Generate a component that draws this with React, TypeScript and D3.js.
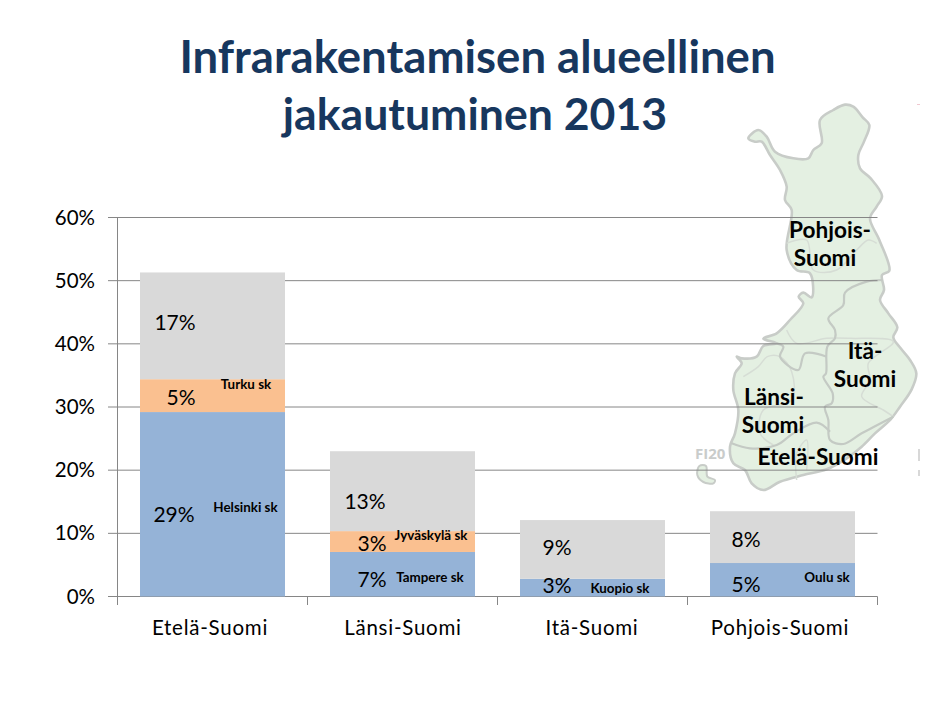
import React from "react";
import * as d3 from "d3";

const categories = ["Etelä-Suomi", "Länsi-Suomi", "Itä-Suomi", "Pohjois-Suomi"];
const blue = [29.2, 7.05, 2.8, 5.3];
const orange = [5.2, 3.3, 0, 0];
const grey = [16.9, 12.65, 9.3, 8.2];
const ticks = [0, 10, 20, 30, 40, 50, 60];
const blueLabels = ["29%", "7%", "3%", "5%"];
const orangeLabels = ["5%", "3%", "", ""];
const greyLabels = ["17%", "13%", "9%", "8%"];
const blueCities = ["Helsinki sk", "Tampere sk", "Kuopio sk", "Oulu sk"];
const orangeCities = ["Turku sk", "Jyväskylä sk", "", ""];

// Map, in reference-crop units
const finland: [number, number][] = [[495,14],[520,20],[548,52],[568,75],[552,125],[535,165],[540,205],[572,235],[606,288],[590,320],[570,355],[598,420],[628,512],[606,525],[612,570],[600,600],[625,640],[652,682],[640,712],[662,745],[690,780],[709,820],[695,868],[660,920],[632,958],[585,1000],[545,1040],[500,1075],[440,1108],[370,1125],[300,1145],[250,1170],[215,1150],[195,1110],[160,1090],[150,1040],[165,1000],[175,930],[160,870],[165,820],[185,790],[170,770],[185,775],[230,770],[250,738],[290,730],[250,716],[290,700],[330,660],[370,610],[356,590],[370,578],[395,592],[390,520],[350,510],[320,450],[335,330],[315,300],[320,260],[300,210],[270,165],[245,125],[225,125],[205,115],[235,90],[260,110],[285,155],[340,175],[385,175],[400,150],[425,130],[420,60],[460,30]];
const aland: [number, number][] = [[58,1098],[78,1098],[82,1130],[105,1140],[100,1150],[70,1146],[52,1125]];
const borderA: [number, number][] = [[608,540],[560,545],[495,578],[490,615],[445,655],[465,690],[465,715],[442,740],[438,820],[430,830],[458,880],[455,910],[435,920],[445,960],[450,1020],[490,1032],[545,1000],[640,950]];
const borderB: [number, number][] = [[440,770],[375,760],[355,810],[300,770],[310,740],[290,730]];
const borderC: [number, number][] = [[155,1030],[210,1045],[290,1035],[340,1000],[410,968],[450,995]];
const paleA: [number, number][] = [[190,830],[235,800],[262,770],[300,770],[335,815],[335,900],[250,930],[240,1000],[280,1035]];
const paleB: [number, number][] = [[320,690],[350,730],[440,715],[510,715],[640,725],[565,790],[570,840],[545,890],[610,930],[640,950]];
const paleC: [number, number][] = [[320,430],[380,420],[400,510],[470,510],[530,450],[565,420],[590,430]];
const paleD: [number, number][] = [[350,1140],[350,1060],[380,1020],[380,1110]];
const innerLines = [paleA, paleB, paleC, paleD];
const borders = [borderA, borderB, borderC];

const W = 949;
const H = 708;
const FONT = "Lato, Carlito, sans-serif";

export default function App() {
  const y = d3.scaleLinear().domain([0, 60]).range([596.5, 217.5]);
  const x = d3.scaleBand<string>().domain(categories).range([117.5, 877.5]).paddingInner(0.2368).paddingOuter(0.1184);
  const mx = d3.scaleLinear().domain([0, 3]).range([680, 681]);
  const my = d3.scaleLinear().domain([0, 3]).range([100, 101]);
  const line = d3.line<[number, number]>().x(d => mx(d[0])).y(d => my(d[1])).curve(d3.curveCatmullRom.alpha(0.5));
  const closed = d3.line<[number, number]>().x(d => mx(d[0])).y(d => my(d[1])).curve(d3.curveCatmullRomClosed.alpha(0.5));
  const step = 190;
  const axisTicks = d3.range(categories.length + 1).map(i => 117.5 + i * step);

  return (
    <svg width={W} height={H} style={{ position: "absolute", left: 0, top: 0, background: "#fff" }}>
      <text x={477.5} y={73} textAnchor="middle" fontFamily={FONT} fontWeight={700} fontSize={45.5} fill="#17375e">Infrarakentamisen alueellinen</text>
      <text x={475} y={130} textAnchor="middle" fontFamily={FONT} fontWeight={700} fontSize={44.6} fill="#17375e">jakautuminen 2013</text>

      <path d={closed(finland) ?? ""} fill="#e4f0e2" stroke="#c8ccc8" strokeWidth={2.6} strokeLinejoin="round" />
      <path d={closed(aland) ?? ""} fill="#e4f0e2" stroke="#c8ccc8" strokeWidth={2} />
      {innerLines.map((l, i) => <path key={i} d={line(l) ?? ""} fill="none" stroke="#d6ddd5" strokeWidth={1.5} />)}
      {borders.map((l, i) => <path key={i} d={line(l) ?? ""} fill="none" stroke="#c4cac4" strokeWidth={2.2} />)}
      <text x={695} y={459} fontFamily="'Open Sans', sans-serif" fontWeight={700} fontSize={15} fill="#c9cccb">FI20</text>
      <rect x={917} y={104} width={3} height={1} fill="#f0c8d0" />
      <rect x={918} y={449} width={2} height={12} fill="#d8d8d8" />
      <rect x={918} y={470} width={2} height={6} fill="#d8d8d8" />

      {ticks.map(t => (
        <line key={t} x1={108} x2={877.5} y1={y(t)} y2={y(t)} stroke="#868686" strokeWidth={1} />
      ))}
      <line x1={117.5} x2={117.5} y1={217} y2={605} stroke="#868686" />
      {axisTicks.map(t => <line key={t} x1={t} x2={t} y1={596.5} y2={605} stroke="#868686" />)}

      {categories.map((c, i) => {
        const bx = x(c) ?? 0;
        const bw = x.bandwidth();
        const y1 = blue[i];
        const y2 = y1 + orange[i];
        const y3 = y2 + grey[i];
        return (
          <g key={c}>
            <rect x={bx} width={bw} y={y(y1)} height={y(0) - y(y1)} fill="#95b3d7" />
            {orange[i] > 0 && <rect x={bx} width={bw} y={y(y2)} height={y(y1) - y(y2)} fill="#fac090" />}
            <rect x={bx} width={bw} y={y(y3)} height={y(y2) - y(y3)} fill="#d9d9d9" />
          </g>
        );
      })}

      {ticks.map(t => (
        <text key={t} x={95} y={y(t) + 7} textAnchor="end" fontFamily={FONT} fontSize={20.5} fill="#000">{t}%</text>
      ))}
      {categories.map((c, i) => (
        <text key={c} x={[210, 403, 592, 780][i]} y={635} textAnchor="middle" fontFamily={FONT} fontSize={20.5} letterSpacing={0.75} fill="#000">{c}</text>
      ))}

      {blueLabels.map((t, i) => {
        const px = [174, 372, 557, 746][i];
        const py = [522, 587, 593, 592][i];
        return <text key={i} x={px} y={py} textAnchor="middle" fontFamily={FONT} fontSize={21} fill="#000">{t}</text>;
      })}
      {orangeLabels.map((t, i) => t && (
        <text key={i} x={[181, 372][i]} y={[405, 551][i]} textAnchor="middle" fontFamily={FONT} fontSize={21} fill="#000">{t}</text>
      ))}
      {greyLabels.map((t, i) => (
        <text key={i} x={[175, 365, 557, 746][i]} y={[330, 509, 555, 547][i]} textAnchor="middle" fontFamily={FONT} fontSize={21} fill="#000">{t}</text>
      ))}
      {blueCities.map((t, i) => (
        <text key={i} x={[245.5, 430, 620, 827][i]} y={[512, 582, 593, 582][i]} textAnchor="middle" fontFamily={FONT} fontWeight={700} fontSize={13.4} fill="#000">{t}</text>
      ))}
      {orangeCities.map((t, i) => t && (
        <text key={i} x={[246, 431][i]} y={[389, 540][i]} textAnchor="middle" fontFamily={FONT} fontWeight={700} fontSize={13.4} fill="#000">{t}</text>
      ))}

      {[["Pohjois-", 830, 238], ["Suomi", 825, 266], ["Itä-", 865, 359], ["Suomi", 865, 387], ["Länsi-", 774, 405], ["Suomi", 773, 433], ["Etelä-Suomi", 818, 465]].map(([t, lx, ly], i) => (
        <text key={i} x={lx as number} y={ly as number} textAnchor="middle" fontFamily={FONT} fontWeight={700} fontSize={22.6} fill="#000">{t}</text>
      ))}
    </svg>
  );
}
